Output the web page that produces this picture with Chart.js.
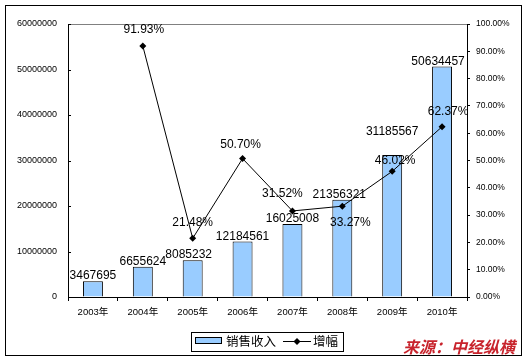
<!DOCTYPE html>
<html>
<head>
<meta charset="utf-8">
<script src="https://cdn.jsdelivr.net/npm/chart.js@4"></script>
<style>
html,body{margin:0;padding:0;background:#fff;}
#wrap{width:526px;height:361px;position:relative;}
</style>
</head>
<body>
<div id="wrap"><canvas id="c" width="526" height="361"></canvas></div>
<script>
const categories = ['2003年','2004年','2005年','2006年','2007年','2008年','2009年','2010年'];
const salesRevenue = [3467695, 6655624, 8085232, 12184561, 16025008, 21356321, 31185567, 50634457];
const growthRate = [null, 0.9193, 0.2148, 0.5070, 0.3152, 0.3327, 0.4602, 0.6237];
const growthLabels = ['', '91.93%', '21.48%', '50.70%', '31.52%', '33.27%', '46.02%', '62.37%'];
const leftTicks = [0, 10000000, 20000000, 30000000, 40000000, 50000000, 60000000];
const rightTicks = [0, 0.1, 0.2, 0.3, 0.4, 0.5, 0.6, 0.7, 0.8, 0.9, 1.0];
const legendNames = ['销售收入', '增幅'];
const sourceText = '来源：中经纵横';

const FONT = "'Liberation Sans', Arial, 'Noto Sans CJK SC', sans-serif";
const CJK = "'Noto Sans CJK SC', 'Liberation Sans', sans-serif";

// label placement tweaks (pixels)
const barLabelShift = {dx:[0,0,-4,0,0,-3,0,-4], dy:[0,0,0,0,0,0,-18,0]};
const lineLabelShift = {dx:[0,1,0,-2,-10,8,3,6], dy:[0,-13,-12,-11,-14,20,-7,-12]};

const decor = {
  id:'decor',
  beforeDraw(chart){
    const ctx = chart.ctx;
    ctx.save();
    ctx.fillStyle = '#fff';
    ctx.fillRect(0,0,chart.width,chart.height);
    ctx.strokeStyle = '#000';
    ctx.lineWidth = 1;
    ctx.strokeRect(5.5,5.5,516,350);
    ctx.restore();
  },
  afterDraw(chart){
    const ctx = chart.ctx;
    const a = chart.chartArea;
    ctx.save();
    // top plot border
    ctx.strokeStyle = '#808080';
    ctx.lineWidth = 1;
    ctx.beginPath();
    ctx.moveTo(a.left, Math.round(a.top)+0.5);
    ctx.lineTo(a.right, Math.round(a.top)+0.5);
    ctx.stroke();
    // inward ticks on left axis
    const ys = chart.scales.y;
    ctx.strokeStyle = '#000';
    ys.ticks.forEach((t,i)=>{
      const py = Math.round(ys.getPixelForTick(i))+0.5;
      ctx.beginPath();
      ctx.moveTo(a.left, py);
      ctx.lineTo(a.left+3, py);
      ctx.stroke();
    });
    // bar labels
    ctx.fillStyle = '#000';
    ctx.font = '12px ' + FONT;
    ctx.textAlign = 'center';
    ctx.textBaseline = 'alphabetic';
    const bm = chart.getDatasetMeta(0);
    bm.data.forEach((el,i)=>{
      ctx.fillText(String(salesRevenue[i]), el.x + barLabelShift.dx[i], el.y - 2 + barLabelShift.dy[i]);
    });
    const lm = chart.getDatasetMeta(1);
    lm.data.forEach((el,i)=>{
      if (growthRate[i] === null) return;
      ctx.fillText(growthLabels[i], el.x + lineLabelShift.dx[i], el.y + lineLabelShift.dy[i]);
    });
    // legend
    ctx.strokeStyle = '#000';
    ctx.lineWidth = 1;
    ctx.fillStyle = '#fff';
    ctx.fillRect(191.5,332.5,152,19);
    ctx.strokeRect(191.5,332.5,152,19);
    ctx.fillStyle = '#99CCFF';
    ctx.fillRect(195.5,337.5,26,6);
    ctx.strokeRect(195.5,337.5,26,6);
    ctx.fillStyle = '#000';
    ctx.font = '12.5px ' + CJK;
    ctx.textAlign = 'left';
    ctx.textBaseline = 'middle';
    ctx.fillText(legendNames[0], 226, 341.5);
    ctx.beginPath();
    ctx.moveTo(283, 341.5);
    ctx.lineTo(311, 341.5);
    ctx.stroke();
    ctx.beginPath();
    ctx.moveTo(297,338); ctx.lineTo(300.5,341.5); ctx.lineTo(297,345); ctx.lineTo(293.5,341.5); ctx.closePath();
    ctx.fill();
    ctx.fillText(legendNames[1], 313, 341.5);
    // source
    ctx.fillStyle = '#C8232C';
    ctx.font = 'italic bold 16px ' + CJK;
    ctx.textAlign = 'left';
    ctx.textBaseline = 'middle';
    ctx.fillText(sourceText, 403, 347);
    ctx.restore();
  }
};

new Chart(document.getElementById('c'), {
  data: {
    labels: categories,
    datasets: [
      {
        type:'bar',
        label: legendNames[0],
        data: salesRevenue,
        backgroundColor:'#99CCFF',
        borderColor:'#000',
        borderWidth:1,
        borderSkipped:'bottom',
        categoryPercentage:1,
        barPercentage:0.4,
        yAxisID:'y',
        order:2
      },
      {
        type:'line',
        label: legendNames[1],
        data: growthRate,
        borderColor:'#000',
        backgroundColor:'#000',
        borderWidth:1,
        tension:0,
        pointStyle:'rectRot',
        pointRadius:3.5,
        pointBorderWidth:0,
        spanGaps:true,
        yAxisID:'y1',
        order:1
      }
    ]
  },
  plugins:[decor],
  options:{
    responsive:false,
    animation:false,
    devicePixelRatio:1,
    layout:{padding:{top:24,left:0,right:0,bottom:0}},
    plugins:{legend:{display:false}, tooltip:{enabled:false}},
    scales:{
      x:{
        offset:true,
        grid:{display:true, drawOnChartArea:false, drawTicks:true, tickLength:4, color:'#000', offset:true},
        border:{display:true, color:'#000'},
        ticks:{font:{size:9.5, family:FONT}, color:'#000', padding:6, maxRotation:0, autoSkip:false},
        afterFit(s){ s.height = 64; }
      },
      y:{
        position:'left',
        min:0, max:60000000,
        afterBuildTicks(s){ s.ticks = leftTicks.map(v=>({value:v})); },
        grid:{display:true, drawOnChartArea:false, drawTicks:false},
        border:{display:true, color:'#000'},
        ticks:{font:{size:9, family:FONT}, color:'#000', padding:11, callback:v=>String(v)},
        afterFit(s){ s.width = 68; }
      },
      y1:{
        position:'right',
        min:0, max:1,
        afterBuildTicks(s){ s.ticks = rightTicks.map(v=>({value:v})); },
        grid:{display:true, drawOnChartArea:false, drawTicks:true, tickLength:3, color:'#000'},
        border:{display:true, color:'#000'},
        ticks:{font:{size:8.5, family:FONT}, color:'#000', padding:6, callback:v=>(v*100).toFixed(2)+'%'},
        afterFit(s){ s.width = 59; }
      }
    }
  }
});
</script>
</body>
</html>
